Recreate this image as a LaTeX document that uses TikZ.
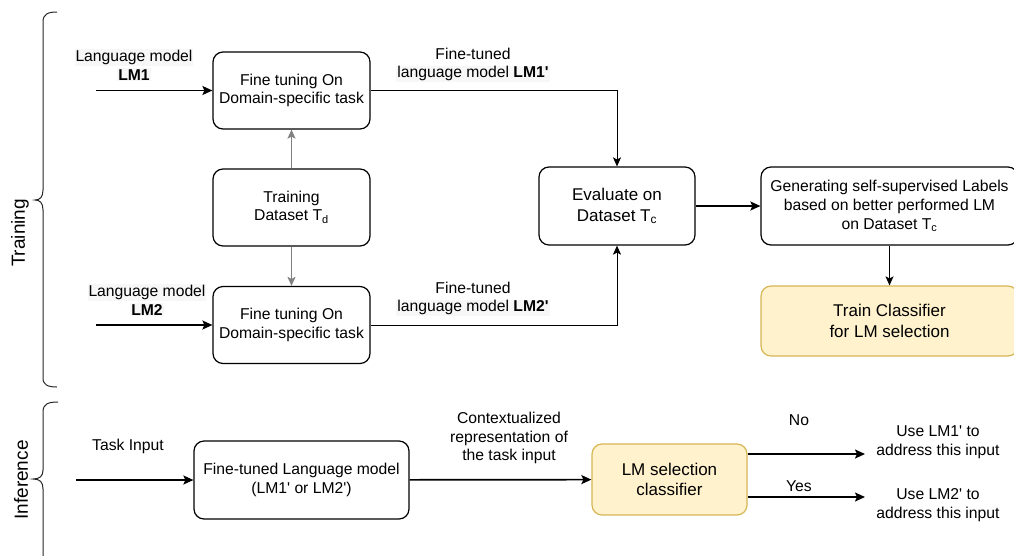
\documentclass[tikz,border=0pt]{standalone}
\usepackage{fontspec}
\setmainfont{Liberation Sans}
\usetikzlibrary{arrows.meta}
\definecolor{yfill}{HTML}{FFF2CC}
\definecolor{ydraw}{HTML}{D6B656}
\definecolor{garrow}{HTML}{808080}
\definecolor{hlgray}{HTML}{F7F7F7}
\newcommand{\hlt}[1]{{\setlength{\fboxsep}{1pt}\colorbox{hlgray}{#1}}}
\newcommand{\q}{\textquotesingle}
\begin{document}
\begin{tikzpicture}[x=1pt,y=-1pt,
  every node/.style={font=\fontsize{15.7}{18.7}\selectfont, inner sep=0pt},
  box/.style={draw, line width=1.2pt, rounded corners=10pt, align=center},
  ybox/.style={box, draw=ydraw, fill=yfill},
  arr/.style={line width=1.7pt, -{Stealth[length=10pt,width=9pt,inset=2pt]}},
  thinarr/.style={line width=1pt, -{Stealth[length=9pt,width=8pt,inset=2pt]}},
  garr/.style={line width=1.3pt, draw=garrow, -{Stealth[length=9pt,width=8pt,inset=2pt,fill=garrow]}},
  lbl/.style={align=center},
  big/.style={font=\fontsize{17}{20.5}\selectfont},
  brace/.style={line width=1pt, draw=black!85},
  side/.style={rotate=90, font=\fontsize{19}{22}\selectfont}]
\useasboundingbox (0,0) rectangle (1014,555);

% braces and side labels
\draw[brace] (57,12) .. controls (48,12) and (43,14) .. (43,22) -- (43,190)
  .. controls (43,197) and (40,200) .. (35,200)
  .. controls (40,200) and (43,203) .. (43,210) -- (43,378)
  .. controls (43,385) and (48,387) .. (57,387);
\node[side] (trlab) at (20,233) {Training};
\draw[brace] (58,402) .. controls (48,402) and (43,404) .. (43,412) -- (43,470)
  .. controls (43,476) and (40,479) .. (33,479)
  .. controls (40,479) and (43,482) .. (43,489) -- (43,560);
\node[side] (inflab) at (21,480) {Inference};

% training boxes
\node[box, minimum width=157pt, minimum height=77pt] (ft1) at (291.5,90.5) {Fine tuning On\\Domain-specific task};
\node[box, minimum width=157pt, minimum height=77pt] (td) at (291.5,207.5) {Training\\Dataset T\textsubscript{d}};
\node[box, minimum width=157pt, minimum height=77pt] (ft2) at (291.5,325) {Fine tuning On\\Domain-specific task};
\node[box, big, minimum width=156pt, minimum height=78pt] (ev) at (617,206) {Evaluate on\\Dataset T\textsubscript{c}};
\node[box, minimum width=257pt, minimum height=78pt] (gen) at (889.5,206) {Generating self-supervised Labels\\based on better performed LM\\on Dataset T\textsubscript{c}};
\node[ybox, big, minimum width=257pt, minimum height=70pt] (tr) at (889.5,321) {Train Classifier\\for LM selection};

% training labels
\node[lbl] (l1) at (134,65) {\hlt{Language model}\\\hlt{\textbf{LM1}}};
\node[lbl] (l2) at (147,300) {\hlt{Language model}\\\hlt{\textbf{LM2}}};
\node[lbl] (l3) at (473,65) {Fine-tuned\\\hlt{language model \textbf{LM1\q}}};
\node[lbl] (l4) at (473,299) {Fine-tuned\\\hlt{language model \textbf{LM2\q}}};

% training connectors
\coordinate (in1) at (96,90.5);
\coordinate (in2) at (96,325);
\draw[arr] (in1) -- (ft1);
\draw[arr] (in2) -- (ft2);
\draw[garr] (td) -- (ft1);
\draw[garr] (td) -- (ft2);
\draw[thinarr] (ft1.east) -| (ev.north);
\draw[thinarr] (ft2.east) -| (ev.south);
\draw[arr] (ev) -- (gen);
\draw[thinarr] (gen) -- (tr);

% inference
\node[box, minimum width=215pt, minimum height=78pt] (ftlm) at (301.5,480) {Fine-tuned Language model\\(LM1\q{} or LM2\q)};
\node[ybox, big, minimum width=155pt, minimum height=71pt] (cls) at (669.5,479.5) {LM selection\\classifier};
\node[lbl] (ti) at (128,446) {Task Input};
\node[lbl] (ctx) at (509,438) {Contextualized\\representation of\\the task input};
\node[lbl] (no) at (799,420) {No};
\node[lbl] (yes) at (799,486) {Yes};
\node[lbl] (u1) at (938,442) {Use LM1\q{} to\\address this input};
\node[lbl] (u2) at (938,505) {Use LM2\q{} to\\address this input};

\coordinate (tin) at (76,480);
\coordinate (o1) at (865,454);
\coordinate (o2) at (865,497);
\draw[arr] (tin) -- (ftlm);
\draw[arr] (ftlm) -- (cls);
\draw[arr] (cls.east |- o1) -- (o1);
\draw[arr] (cls.east |- o2) -- (o2);
\end{tikzpicture}
\end{document}
